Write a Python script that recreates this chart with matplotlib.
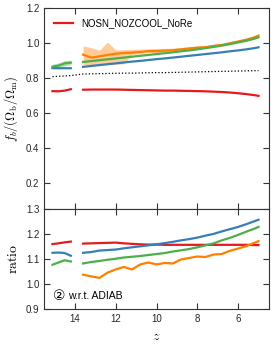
import matplotlib
matplotlib.use("Agg")
import matplotlib.pyplot as plt

plt.rcParams['font.family'] = ['Liberation Sans', 'DejaVu Sans']
plt.rcParams['mathtext.fontset'] = 'cm'
plt.rcParams['font.size'] = 7

# redshift grid of the two snapshot segments
z1 = [15.1, 14.8, 14.5, 14.2]
z2 = [13.6, 13.2, 12.8, 12.4, 12.0, 11.6, 11.2, 10.8, 10.4, 10.0, 9.6, 9.2,
      8.8, 8.4, 8.0, 7.6, 7.2, 6.8, 6.4, 6.0, 5.6, 5.2, 5.0]

# top panel: f_b / (Omega_b / Omega_m)
red_top1 = [0.726, 0.725, 0.729, 0.737]
blue_top1 = [0.858, 0.857, 0.857, 0.857]
green_top1 = [0.866, 0.872, 0.885, 0.889]
green_lo1 = [0.852, 0.858, 0.870, 0.876]
green_hi1 = [0.880, 0.888, 0.900, 0.903]

red_top2 = [0.734, 0.735, 0.735, 0.735, 0.735, 0.734, 0.733, 0.732, 0.731, 0.730, 0.729, 0.729,
            0.728, 0.727, 0.726, 0.725, 0.723, 0.721, 0.718, 0.714, 0.709, 0.703, 0.699]
blue_top2 = [0.865, 0.870, 0.875, 0.880, 0.885, 0.890, 0.895, 0.899, 0.904, 0.909, 0.913, 0.918,
             0.923, 0.928, 0.933, 0.938, 0.943, 0.948, 0.954, 0.959, 0.965, 0.972, 0.977]
green_top2 = [0.893, 0.898, 0.903, 0.908, 0.913, 0.918, 0.923, 0.928, 0.933, 0.938, 0.943, 0.948,
              0.954, 0.959, 0.965, 0.972, 0.979, 0.987, 0.995, 1.005, 1.014, 1.026, 1.034]
orange_top2 = [0.935, 0.918, 0.925, 0.933, 0.940, 0.944, 0.946, 0.950, 0.955, 0.955, 0.958, 0.960,
               0.965, 0.970, 0.975, 0.977, 0.985, 0.990, 1.000, 1.010, 1.020, 1.034, 1.044]
orange_lo2 = [0.878, 0.878, 0.877, 0.878, 0.880, 0.882, 0.935, 0.940, 0.946, 0.946, 0.950, 0.952,
              0.957, 0.962, 0.967, 0.969, 0.977, 0.982, 0.993, 1.003, 1.013, 1.027, 1.037]
orange_hi2 = [0.985, 0.975, 0.960, 1.006, 0.962, 0.963, 0.965, 0.966, 0.968, 0.970, 0.970, 0.972,
              0.975, 0.980, 0.984, 0.986, 0.993, 0.998, 1.007, 1.017, 1.027, 1.041, 1.051]

z_dot = z1 + z2
black_dot = [0.809, 0.811, 0.813, 0.815, 0.824, 0.825, 0.826, 0.827, 0.828, 0.829, 0.829, 0.830,
             0.831, 0.832, 0.832, 0.833, 0.834, 0.835, 0.836, 0.837, 0.838, 0.839, 0.840, 0.841,
             0.842, 0.843, 0.843]

# bottom panel: ratio w.r.t. ADIAB
red_rat1 = [1.160, 1.163, 1.167, 1.170]
blue_rat1 = [1.125, 1.126, 1.124, 1.113]
green_rat1 = [1.077, 1.086, 1.095, 1.090]

red_rat2 = [1.162, 1.163, 1.164, 1.165, 1.166, 1.163, 1.161, 1.159, 1.158, 1.158, 1.157, 1.157,
            1.157, 1.157, 1.157, 1.157, 1.157, 1.157, 1.157, 1.157, 1.157, 1.156, 1.156]
blue_rat2 = [1.125, 1.128, 1.134, 1.136, 1.138, 1.143, 1.147, 1.151, 1.155, 1.159, 1.164, 1.169,
             1.175, 1.180, 1.186, 1.194, 1.201, 1.211, 1.220, 1.229, 1.240, 1.252, 1.258]
green_rat2 = [1.082, 1.088, 1.092, 1.097, 1.101, 1.106, 1.109, 1.112, 1.116, 1.120, 1.124, 1.130,
              1.135, 1.140, 1.147, 1.155, 1.163, 1.175, 1.185, 1.197, 1.210, 1.222, 1.229]
orange_rat2 = [1.037, 1.030, 1.024, 1.045, 1.058, 1.068, 1.058, 1.078, 1.086, 1.078, 1.084, 1.082,
               1.098, 1.104, 1.110, 1.108, 1.118, 1.120, 1.133, 1.142, 1.152, 1.165, 1.172]

RED = '#e41a1c'
BLUE = '#377eb8'
GREEN = '#4daf4a'
ORANGE = '#ff7f00'
lw = 1.6

fig = plt.figure(figsize=(2.74, 3.48), dpi=100)
ax1 = fig.add_axes([0.1617, 0.3986, 0.819, 0.5776])
ax2 = fig.add_axes([0.1617, 0.1129, 0.819, 0.2857], sharex=ax1)

ax1.fill_between(z1, green_lo1, green_hi1, color=GREEN, alpha=0.4, lw=0)
ax1.fill_between(z2, orange_lo2, orange_hi2, color=ORANGE, alpha=0.4, lw=0)
ax1.plot(z_dot, black_dot, color='k', ls=':', lw=0.9)
ax1.plot(z1, blue_top1, color=BLUE, lw=lw)
ax1.plot(z2, blue_top2, color=BLUE, lw=lw)
ax1.plot(z2, orange_top2, color=ORANGE, lw=lw)
ax1.plot(z1, green_top1, color=GREEN, lw=lw)
ax1.plot(z2, green_top2, color=GREEN, lw=lw)
ax1.plot(z1, red_top1, color=RED, lw=lw)
ax1.plot(z2, red_top2, color=RED, lw=lw, label='NOSN_NOZCOOL_NoRe')

ax1.set_ylim(0.05, 1.2)
ax1.set_yticks([0.2, 0.4, 0.6, 0.8, 1.0, 1.2])
ax1.set_ylabel(r'$f_b/(\Omega_{\rm b}/\Omega_{\rm m})$', fontsize=9)
ax1.legend(loc='upper left', frameon=False, fontsize=7, handlelength=2.0,
           borderaxespad=0.6)
ax1.tick_params(labelbottom=False)

ax2.plot(z1, red_rat1, color=RED, lw=lw)
ax2.plot(z2, red_rat2, color=RED, lw=lw)
ax2.plot(z1, blue_rat1, color=BLUE, lw=lw)
ax2.plot(z2, blue_rat2, color=BLUE, lw=lw)
ax2.plot(z1, green_rat1, color=GREEN, lw=lw)
ax2.plot(z2, green_rat2, color=GREEN, lw=lw)
ax2.plot(z2, orange_rat2, color=ORANGE, lw=lw)

ax2.set_ylim(0.9, 1.3)
ax2.set_yticks([0.9, 1.0, 1.1, 1.2, 1.3])
ax2.set_xlim(15.5, 4.5)
ax2.set_xticks([14, 12, 10, 8, 6])
ax2.set_ylabel(r'$\rm ratio$', fontsize=10)
ax2.set_xlabel(r'$z$', fontsize=10)
ax2.text(0.066, 0.128, '②', transform=ax2.transAxes, fontsize=10,
         family='DejaVu Sans', ha='center', va='center')
ax2.text(0.105, 0.128, 'w.r.t. ADIAB', transform=ax2.transAxes, fontsize=7.5,
         ha='left', va='center')

for ax in (ax1, ax2):
    ax.tick_params(direction='in', top=True, right=True, length=4, width=0.8,
                   colors='#333333', labelcolor='#262626', labelsize=7)
    for s in ax.spines.values():
        s.set_color('#333333')
        s.set_linewidth(0.8)

fig.savefig('out.png', dpi=100)
